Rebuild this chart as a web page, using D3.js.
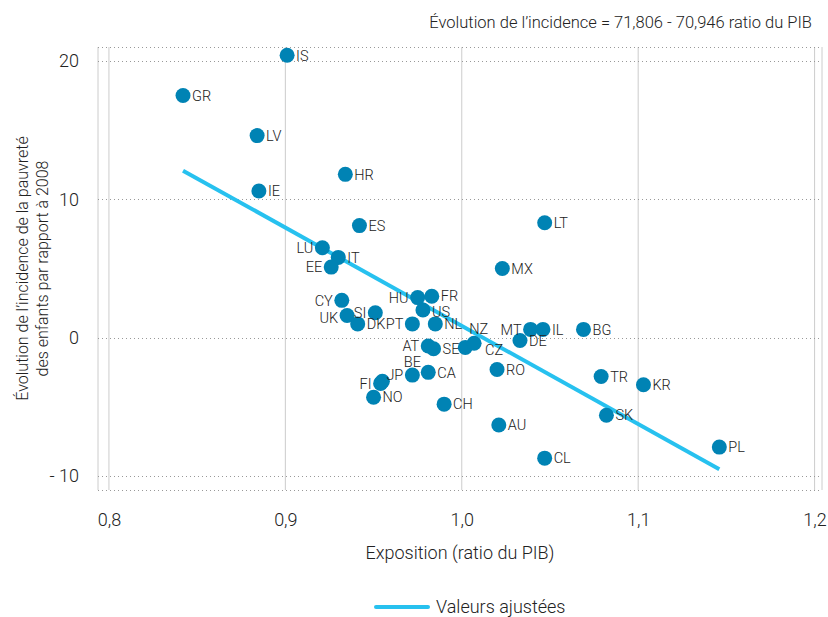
<!DOCTYPE html>
<html>
<head>
<meta charset="utf-8">
<script src="https://cdn.jsdelivr.net/npm/d3@7"></script>
<style>
  body { margin: 0; background: #fff; }
  text { font-family: Roboto, "Liberation Sans", sans-serif; font-weight: 300; fill: #222; }
</style>
</head>
<body>
<div id="chart"></div>
<script>
var countries = ['IS', 'GR', 'LV', 'HR', 'IE', 'ES', 'LT', 'LU', 'IT', 'EE', 'MX', 'CY', 'HU', 'FR', 'US', 'SI', 'UK', 'DK', 'PT', 'NL', 'NZ', 'CZ', 'AT', 'SE', 'BE', 'CA', 'FI', 'JP', 'NO', 'CH', 'RO', 'MT', 'IL', 'BG', 'DE', 'TR', 'KR', 'SK', 'AU', 'CL', 'PL'];
var exposure = [0.901, 0.842, 0.884, 0.934, 0.885, 0.942, 1.047, 0.921, 0.930, 0.926, 1.023, 0.932, 0.975, 0.983, 0.978, 0.951, 0.935, 0.941, 0.972, 0.985, 1.002, 1.007, 0.981, 0.984, 0.972, 0.981, 0.954, 0.955, 0.950, 0.990, 1.020, 1.039, 1.046, 1.069, 1.033, 1.079, 1.103, 1.082, 1.021, 1.047, 1.146];
var change = [20.4, 17.5, 14.6, 11.8, 10.6, 8.1, 8.3, 6.5, 5.8, 5.1, 5.0, 2.7, 2.9, 3.0, 2.0, 1.8, 1.6, 1.0, 1.0, 1.0, -0.7, -0.4, -0.6, -0.8, -2.7, -2.5, -3.3, -3.15, -4.3, -4.8, -2.3, 0.6, 0.6, 0.6, -0.2, -2.8, -3.4, -5.6, -6.3, -8.7, -7.9];
var xTicks = [0.8, 0.9, 1.0, 1.1, 1.2];
var yTicks = [20, 10, 0, -10];
var yTickLabels = ['20', '10', '0', '- 10'];
var fitIntercept = 71.806;
var fitSlope = -70.946;

// where each label sits relative to its dot (default: right)
var labelPlace = {
  LU: 'left', EE: 'left', CY: 'left', UK: 'leftLow', HU: 'left', SI: 'left',
  PT: 'left', AT: 'left', FI: 'left', MT: 'left', US: 'rightLow',
  BE: 'above', NZ: 'aboveRight', JP: 'upRight', CZ: 'downRight'
};

var W = 828, H = 617;
var margin = { left: 98, right: 6, top: 47, bottom: 127 };

var svg = d3.select('#chart').append('svg')
  .attr('width', W).attr('height', H);

var x = d3.scaleLinear().domain([0.7938, 1.2042]).range([margin.left, W - margin.right]);
var y = d3.scaleLinear().domain([-11, 21]).range([H - margin.bottom, margin.top]);

var fmt = function(v) { return d3.format('.1f')(v).replace('.', ','); };

// grid
var grid = svg.append('g');
grid.selectAll('line.v').data(xTicks).enter().append('line')
  .attr('x1', function(d) { return x(d); }).attr('x2', function(d) { return x(d); })
  .attr('y1', y(21)).attr('y2', y(-11))
  .attr('stroke', '#ccc').attr('stroke-width', 1);
grid.selectAll('line.b').data([0.7938, 1.2042]).enter().append('line')
  .attr('x1', function(d) { return x(d); }).attr('x2', function(d) { return x(d); })
  .attr('y1', y(21)).attr('y2', y(-11))
  .attr('stroke', '#ccc').attr('stroke-width', 1);
grid.selectAll('line.h').data(yTicks.concat([21, -11])).enter().append('line')
  .attr('x1', x(0.7938)).attr('x2', x(1.2042))
  .attr('y1', function(d) { return Math.round(y(d)) + 0.5; })
  .attr('y2', function(d) { return Math.round(y(d)) + 0.5; })
  .attr('stroke', '#999').attr('stroke-width', 1).attr('stroke-dasharray', '1,3');

// axes
var xAxis = svg.append('g')
  .attr('transform', 'translate(0,' + (y(-11) + 20) + ')')
  .call(d3.axisBottom(x).tickValues(xTicks).tickFormat(fmt).tickSize(0));
xAxis.select('.domain').remove();
xAxis.selectAll('text').attr('font-size', 18).attr('fill', '#222')
  .style('font-family', 'Roboto, sans-serif').style('font-weight', 300);

var yAxis = svg.append('g')
  .attr('transform', 'translate(' + (margin.left - 16) + ',0)')
  .call(d3.axisLeft(y).tickValues(yTicks)
    .tickFormat(function(d, i) { return yTickLabels[i]; }).tickSize(0));
yAxis.select('.domain').remove();
yAxis.selectAll('text').attr('font-size', 18).attr('fill', '#222')
  .style('font-family', 'Roboto, sans-serif').style('font-weight', 300);

// fitted line
var xs = d3.extent(exposure);
svg.append('line')
  .attr('x1', x(xs[0])).attr('y1', y(fitIntercept + fitSlope * xs[0]))
  .attr('x2', x(xs[1])).attr('y2', y(fitIntercept + fitSlope * xs[1]))
  .attr('stroke', '#27c1ef').attr('stroke-width', 4);

// points
var pts = countries.map(function(c, i) { return { c: c, x: exposure[i], y: change[i] }; });
svg.append('g').selectAll('circle').data(pts).enter().append('circle')
  .attr('cx', function(d) { return x(d.x); })
  .attr('cy', function(d) { return y(d.y); })
  .attr('r', 7.5)
  .attr('fill', '#0083b4');

var offs = {
  right: [9, 0, 'start'], left: [-9, 0, 'end'], above: [0, -13, 'middle'],
  rightLow: [9, 2, 'start'], leftLow: [-9, 2, 'end'],
  aboveRight: [4, -19, 'start'], upRight: [4, -7, 'start'], downRight: [11, 7, 'start']
};
svg.append('g').selectAll('text').data(pts).enter().append('text')
  .attr('x', function(d) { return x(d.x) + offs[labelPlace[d.c] || 'right'][0]; })
  .attr('y', function(d) { return y(d.y) + offs[labelPlace[d.c] || 'right'][1]; })
  .attr('dy', '0.36em')
  .attr('text-anchor', function(d) { return offs[labelPlace[d.c] || 'right'][2]; })
  .attr('font-size', 14.5)
  .text(function(d) { return d.c; });

// titles
svg.append('text')
  .attr('x', 812).attr('y', 28).attr('text-anchor', 'end').attr('font-size', 16.5)
  .text('Évolution de l’incidence = 71,806 - 70,946 ratio du PIB');

svg.append('text')
  .attr('x', (x(0.7938) + x(1.2042)) / 2).attr('y', 559).attr('text-anchor', 'middle')
  .attr('font-size', 18)
  .text('Exposition (ratio du PIB)');

var yt = svg.append('text')
  .attr('transform', 'translate(28,' + ((y(21) + y(-11)) / 2) + ') rotate(-90)')
  .attr('text-anchor', 'middle').attr('font-size', 16);
yt.append('tspan').attr('x', 0).attr('dy', 0).text('Évolution de l’incidence de la pauvreté');
yt.append('tspan').attr('x', 0).attr('dy', 20).text('des enfants par rapport à 2008');

// legend
svg.append('line')
  .attr('x1', 376).attr('x2', 428).attr('y1', 607).attr('y2', 607)
  .attr('stroke', '#27c1ef').attr('stroke-width', 4).attr('stroke-linecap', 'round');
svg.append('text')
  .attr('x', 436).attr('y', 607).attr('dy', '0.35em').attr('font-size', 18)
  .text('Valeurs ajustées');
</script>
</body>
</html>
